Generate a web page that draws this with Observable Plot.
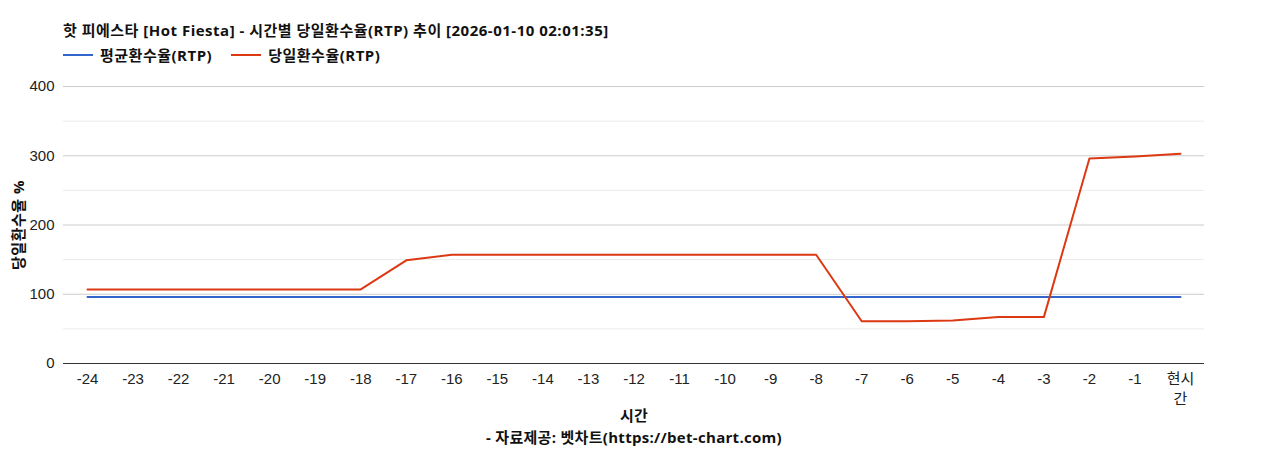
<!DOCTYPE html>
<html><head><meta charset="utf-8">
<script src="https://cdn.jsdelivr.net/npm/d3@7"></script>
<script src="https://cdn.jsdelivr.net/npm/@observablehq/plot@0.6"></script>
<style>
body{margin:0;background:#fff;font-family:"Open Sans","Noto Sans CJK KR",sans-serif;}
#wrap{position:relative;width:1268px;height:450px;}
#title{position:absolute;left:63px;top:20px;font-size:15px;letter-spacing:0.5px;font-weight:bold;color:#111;white-space:nowrap;line-height:20px;}
#legend{position:absolute;left:63px;top:45px;font-size:15px;letter-spacing:0.5px;font-weight:bold;color:#111;display:flex;align-items:center;white-space:nowrap;line-height:20px;}
.sw{display:inline-block;width:30px;height:2px;margin-right:7px;}
#chart{position:absolute;left:0;top:70px;}
#xlab{position:absolute;left:0;width:1268px;top:405px;text-align:center;font-size:15px;letter-spacing:0.3px;font-weight:bold;color:#111;line-height:20px;}
#cap{position:absolute;left:0;width:1268px;top:427px;text-align:center;font-size:15px;letter-spacing:0.3px;font-weight:bold;color:#111;line-height:20px;}
svg text{font-family:"Liberation Sans","Noto Sans CJK KR",sans-serif;}
</style></head>
<body><div id="wrap">
<div id="title"></div>
<div id="legend"></div>
<div id="chart"></div>
<div id="xlab"></div>
<div id="cap"></div>
</div>
<script>
const titleText = "핫 피에스타 [Hot Fiesta] - 시간별 당일환수율(RTP) 추이 [2026-01-10 02:01:35]";
const seriesNames = ["평균환수율(RTP)", "당일환수율(RTP)"];
const seriesColors = ["#3366cc", "#dc3912"];
const hours = ["-24","-23","-22","-21","-20","-19","-18","-17","-16","-15","-14","-13","-12","-11","-10","-9","-8","-7","-6","-5","-4","-3","-2","-1","현시간"];
const avgRTP = [96,96,96,96,96,96,96,96,96,96,96,96,96,96,96,96,96,96,96,96,96,96,96,96,96];
const dayRTP = [107,107,107,107,107,107,107,149,157,157,157,157,157,157,157,157,157,61,61,62,67,67,296,299,303];
const yTicks = [0,100,200,300,400];
const yMinor = [50,150,250,350];
const xTitle = "시간";
const yTitle = "당일환수율 %";
const caption = "- 자료제공: 벳차트(https://bet-chart.com)";

document.getElementById("title").textContent = titleText;
document.getElementById("xlab").textContent = xTitle;
document.getElementById("cap").textContent = caption;
const lg = document.getElementById("legend");
seriesNames.forEach((n,i)=>{
  const s=document.createElement("span");s.className="sw";s.style.background=seriesColors[i];
  if(i>0) s.style.marginLeft="19px";
  lg.appendChild(s);
  const t=document.createElement("span");t.textContent=n;lg.appendChild(t);
});

const data = [];
hours.forEach((h,i)=>{
  data.push({h, v: avgRTP[i], s: seriesNames[0]});
});
hours.forEach((h,i)=>{
  data.push({h, v: dayRTP[i], s: seriesNames[1]});
});

const chart = Plot.plot({
  width: 1268,
  height: 345,
  marginLeft: 63,
  marginRight: 64,
  marginTop: 16,
  marginBottom: 52,
  style: {fontSize: "15px", color: "#222", overflow: "visible"},
  x: {type: "point", domain: hours, padding: 0.527, round: false, label: null},
  y: {domain: [0,400], label: null},
  color: {domain: seriesNames, range: seriesColors},
  marks: [
    Plot.ruleY(yMinor, {stroke: "#ebebeb", strokeWidth: 1}),
    Plot.ruleY(yTicks.filter(d=>d>0), {stroke: "#cccccc", strokeWidth: 1}),
    Plot.axisY({ticks: yTicks, tickSize: 0, tickPadding: 9, label: yTitle, labelAnchor: "center", labelArrow: "none", labelOffset: 50, fontSize: 15, fill: "#222"}),
    Plot.axisX({tickSize: 0, tickPadding: 6, fontSize: 15, lineHeight: 1.33, fill: "#222", tickFormat: d => d === "현시간" ? "현시\n간" : d}),
    Plot.line(data, {x: "h", y: "v", stroke: "s", z: "s", strokeWidth: 2}),
    Plot.ruleY([0], {stroke: "#333", strokeWidth: 1})
  ]
});
document.getElementById("chart").appendChild(chart);
chart.querySelectorAll("g[aria-label='y-axis tick label'], g[aria-label='x-axis tick label']").forEach(e=>{e.setAttribute("font-size","15");});
chart.querySelectorAll("g[aria-label='y-axis label']").forEach(e=>{e.setAttribute("font-size","15");e.setAttribute("font-weight","bold");e.setAttribute("fill","#111");
  e.querySelectorAll("text").forEach(t=>{t.style.fontFamily='"Open Sans","Noto Sans CJK KR",sans-serif';t.style.letterSpacing="0.5px";});});
</script>
</body></html>
